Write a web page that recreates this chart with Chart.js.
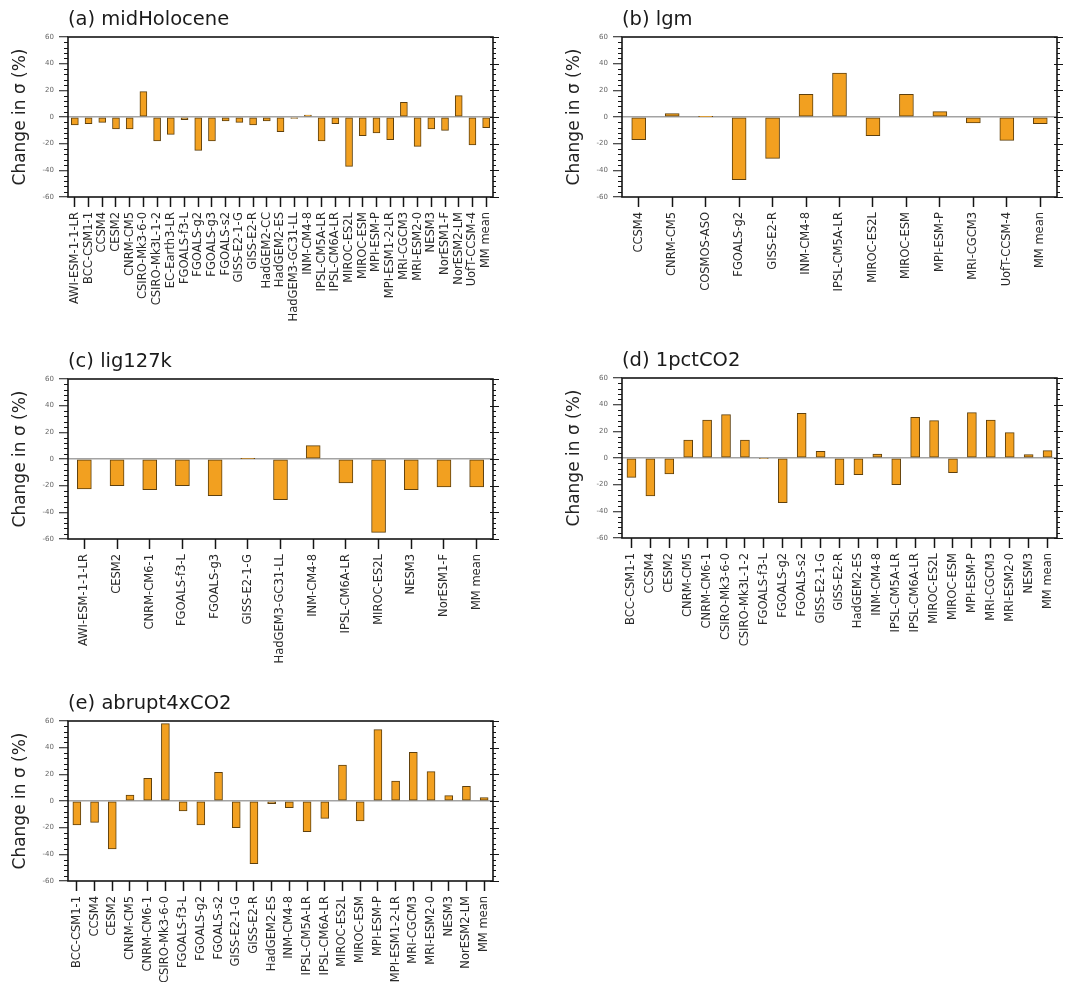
<!DOCTYPE html>
<html>
<head>
<meta charset="utf-8">
<script src="https://cdn.jsdelivr.net/npm/chart.js@4.4.0/dist/chart.umd.min.js"></script>
<style>
  body { margin: 0; background: #fff; width: 1068px; height: 982px; overflow: hidden; position: relative; }
  canvas { position: absolute; }
</style>
</head>
<body>
<canvas id="chartA" width="540" height="330" style="left:0px;top:0px"></canvas>
<canvas id="chartB" width="514" height="330" style="left:554px;top:0px"></canvas>
<canvas id="chartC" width="540" height="330" style="left:0px;top:342px"></canvas>
<canvas id="chartD" width="514" height="330" style="left:554px;top:341px"></canvas>
<canvas id="chartE" width="540" height="298" style="left:0px;top:684px"></canvas>
<script>
// models and change in sigma (%) for each experiment
const midHoloceneModels = ["AWI-ESM-1-1-LR", "BCC-CSM1-1", "CCSM4", "CESM2", "CNRM-CM5", "CSIRO-Mk3-6-0",
  "CSIRO-Mk3L-1-2", "EC-Earth3-LR", "FGOALS-f3-L", "FGOALS-g2", "FGOALS-g3", "FGOALS-s2", "GISS-E2-1-G",
  "GISS-E2-R", "HadGEM2-CC", "HadGEM2-ES", "HadGEM3-GC31-LL", "INM-CM4-8", "IPSL-CM5A-LR", "IPSL-CM6A-LR",
  "MIROC-ES2L", "MIROC-ESM", "MPI-ESM-P", "MPI-ESM1-2-LR", "MRI-CGCM3", "MRI-ESM2-0", "NESM3", "NorESM1-F",
  "NorESM2-LM", "UofT-CCSM-4", "MM mean"];
const midHoloceneValues = [-6, -5, -4, -9, -9, 19, -18, -13, -2, -25, -18, -3, -4, -6, -3, -11, -1, 1.5,
  -18, -5, -37, -14, -12, -17, 11, -22, -9, -10, 16, -21, -8];

const lgmModels = ["CCSM4", "CNRM-CM5", "COSMOS-ASO", "FGOALS-g2", "GISS-E2-R", "INM-CM4-8", "IPSL-CM5A-LR",
  "MIROC-ES2L", "MIROC-ESM", "MPI-ESM-P", "MRI-CGCM3", "UofT-CCSM-4", "MM mean"];
const lgmValues = [-17, 2.5, 0.3, -47, -31, 17, 33, -14, 17, 4, -4.5, -17.5, -5];

const lig127kModels = ["AWI-ESM-1-1-LR", "CESM2", "CNRM-CM6-1", "FGOALS-f3-L", "FGOALS-g3", "GISS-E2-1-G",
  "HadGEM3-GC31-LL", "INM-CM4-8", "IPSL-CM6A-LR", "MIROC-ES2L", "NESM3", "NorESM1-F", "MM mean"];
const lig127kValues = [-22.5, -20, -23, -20, -27.5, 0.2, -30.5, 10, -18, -55, -23, -21, -21];

const pctCO2Models = ["BCC-CSM1-1", "CCSM4", "CESM2", "CNRM-CM5", "CNRM-CM6-1", "CSIRO-Mk3-6-0",
  "CSIRO-Mk3L-1-2", "FGOALS-f3-L", "FGOALS-g2", "FGOALS-s2", "GISS-E2-1-G", "GISS-E2-R", "HadGEM2-ES",
  "INM-CM4-8", "IPSL-CM5A-LR", "IPSL-CM6A-LR", "MIROC-ES2L", "MIROC-ESM", "MPI-ESM-P", "MRI-CGCM3",
  "MRI-ESM2-0", "NESM3", "MM mean"];
const pctCO2Values = [-14.5, -28.5, -12, 13.5, 28.5, 32.5, 13.5, -0.5, -33.5, 33.5, 5, -20, -12.5, 3,
  -20, 30.5, 28, -11, 34, 28.5, 19, 2.5, 5.5];

const abrupt4xModels = ["BCC-CSM1-1", "CCSM4", "CESM2", "CNRM-CM5", "CNRM-CM6-1", "CSIRO-Mk3-6-0",
  "FGOALS-f3-L", "FGOALS-g2", "FGOALS-s2", "GISS-E2-1-G", "GISS-E2-R", "HadGEM2-ES", "INM-CM4-8",
  "IPSL-CM5A-LR", "IPSL-CM6A-LR", "MIROC-ES2L", "MIROC-ESM", "MPI-ESM-P", "MPI-ESM1-2-LR", "MRI-CGCM3",
  "MRI-ESM2-0", "NESM3", "NorESM2-LM", "MM mean"];
const abrupt4xValues = [-18, -16, -36, 4.5, 17, 58, -7.5, -18, 21.5, -20, -47, -2, -5, -23, -13, 27,
  -15, 53.5, 15, 36.5, 22, 4, 11, 2.5];

const yMin = -60;
const yMax = 60;
const yStep = 20;

Chart.defaults.font.family = "'DejaVu Sans', sans-serif";
Chart.defaults.animation = false;

// box round the plot, minor ticks and right-hand ticks
const frame = {
  id: "frame",
  afterDraw(chart) {
    const { ctx, chartArea: a } = chart;
    const y = chart.scales.y;
    ctx.save();
    ctx.strokeStyle = "#151515";
    ctx.lineWidth = 1;
    for (let v = yMin; v <= yMax; v += 4) {
      const py = Math.round(y.getPixelForValue(v)) + 0.5;
      const major = v % yStep === 0;
      ctx.beginPath();
      if (!major) {
        ctx.moveTo(a.left - 4, py);
        ctx.lineTo(a.left, py);
      }
      ctx.moveTo(a.right - (major ? 3 : 0), py);
      ctx.lineTo(a.right + (major ? 6 : 3), py);
      ctx.stroke();
    }
    ctx.lineWidth = 1.6;
    ctx.strokeRect(a.left, a.top, a.right - a.left, a.bottom - a.top);
    ctx.restore();
  },
};

function makeChart(id, title, labels, values, barWidth, padRight) {
  const canvas = document.getElementById(id);
  const xHeight = canvas.height - 37 - 160;
  return new Chart(canvas, {
    type: "bar",
    data: {
      labels: labels,
      datasets: [
        {
          data: values,
          backgroundColor: "#f2a020",
          borderColor: "#5e400e",
          borderWidth: 1,
          borderSkipped: false,
          barThickness: barWidth,
        },
      ],
    },
    options: {
      responsive: false,
      layout: { padding: { left: 0, right: padRight, top: 0, bottom: 0 } },
      plugins: {
        legend: { display: false },
        tooltip: { enabled: false },
        title: {
          display: true,
          text: title,
          align: "start",
          fullSize: false,
          color: "#1a1a1a",
          font: { size: 19.5, weight: "normal" },
          padding: { top: 8.5, bottom: 5.1 },
        },
      },
      scales: {
        x: {
          offset: true,
          grid: { offset: false, drawOnChartArea: false, tickLength: 10, tickColor: "#151515", tickWidth: 1.5 },
          border: { display: false },
          ticks: {
            autoSkip: false,
            minRotation: 90,
            maxRotation: 90,
            padding: 5,
            color: "#2a2a2a",
            font: { size: 11.5 },
          },
          afterFit: (s) => { s.height = xHeight; },
        },
        y: {
          min: yMin,
          max: yMax,
          ticks: { stepSize: yStep, padding: 5, color: "#666", font: { size: 7 } },
          grid: {
            color: (c) => (c.tick && c.tick.value === 0 ? "#a3a3a3" : "rgba(0,0,0,0)"),
            lineWidth: 1.5,
            tickColor: "#151515",
            tickLength: 9,
            tickWidth: 1,
          },
          border: { display: false },
          title: {
            display: true,
            text: "Change in σ (%)",
            color: "#222",
            font: { size: 17 },
            padding: { top: 10, bottom: 0 },
          },
          afterFit: (s) => { s.width = 68; },
        },
      },
    },
    plugins: [frame],
  });
}

makeChart("chartA", "(a) midHolocene", midHoloceneModels, midHoloceneValues, 7, 47);
makeChart("chartB", "(b) lgm", lgmModels, lgmValues, 14, 11);
makeChart("chartC", "(c) lig127k", lig127kModels, lig127kValues, 14, 47);
makeChart("chartD", "(d) 1pctCO2", pctCO2Models, pctCO2Values, 9, 11);
makeChart("chartE", "(e) abrupt4xCO2", abrupt4xModels, abrupt4xValues, 8, 47);
</script>
</body>
</html>
